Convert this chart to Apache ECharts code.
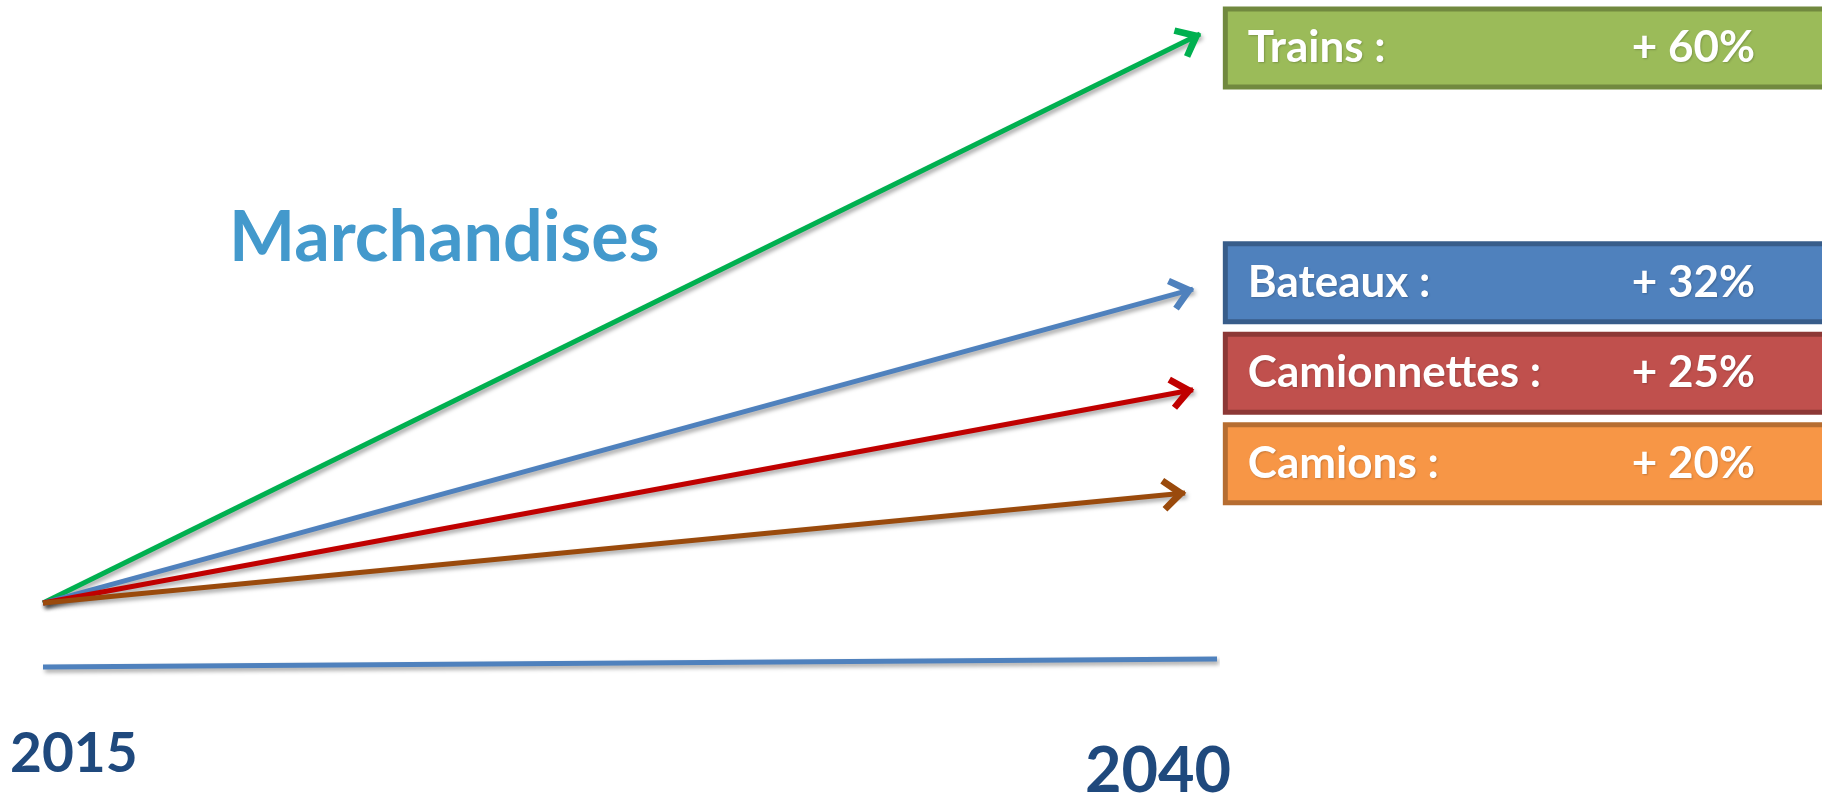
<!DOCTYPE html>
<html><head><meta charset="utf-8">
<script src="https://cdn.jsdelivr.net/npm/echarts@6/dist/echarts.min.js"></script>
<style>html,body{margin:0;padding:0;background:#fff}#c{width:1822px;height:796px}</style>
</head><body><div id="c"></div>
<script>
// ---- data ----
const categories = ['Trains', 'Bateaux', 'Camionnettes', 'Camions'];
const growthLabels = ['+ 60%', '+ 32%', '+ 25%', '+ 20%'];
const yearLabels = ['2015', '2040'];
const startYear = 2015;
const endYear = 2040;
const arrowStart = [2015, 10.1];
const arrowEndX = [2039.64, 2039.49, 2039.49, 2039.32];
const arrowEndY = [100, 59.7, 43.8, 27.5];
const baselineX = [2015, 2040];
const baselineY = [0, 1.26];
const boxX = 2040.22;
const boxY = [97.8, 60.7, 46.4, 32.1];
const titleText = 'Marchandises';

// ---- styles ----
const arrowColors = ['#00B050', '#4F81BD', '#C00000', '#9A4A0C'];
const boxFill = ['#9BBB59', '#4F81BD', '#C0504D', '#F79646'];
const boxBorder = ['#71893F', '#385D8A', '#8C3836', '#B66D31'];
const FONT = 'Lato, "Open Sans", sans-serif';

const arrowPath = 'path://M0,0 L0.01,0 L0,0.01 Z M40,40 L39.99,40 L40,39.99 Z ' +
  'M20,19 L33.5,35.5 L29.5,39 L20,27.8 L10.5,39 L6.5,35.5 Z';

const chart = echarts.init(document.getElementById('c'), null, {renderer: 'canvas'});

const shadow = {shadowColor: 'rgba(0,0,0,0.35)', shadowBlur: 4, shadowOffsetX: 2, shadowOffsetY: 3};
const txt = {fontSize: 44, fontWeight: 'bold', color: '#ffffff', fontFamily: FONT, lineHeight: 73,
  textShadowColor: 'rgba(0,0,0,0.2)', textShadowBlur: 2, textShadowOffsetX: 1, textShadowOffsetY: 1};

const option = {
  animation: false,
  backgroundColor: '#ffffff',
  grid: {left: 43, right: 605, top: 34, bottom: 129},
  xAxis: {type: 'value', min: startYear, max: endYear, show: false},
  yAxis: {type: 'value', min: 0, max: 100, show: false},
  series: [
    {
      type: 'line',
      name: 'base',
      data: baselineX.map((x, i) => [x, baselineY[i]]),
      showSymbol: false,
      clip: false,
      silent: true,
      lineStyle: Object.assign({color: '#4F81BD', width: 5}, shadow),
      z: 1
    },
    {
      type: 'lines',
      coordinateSystem: 'cartesian2d',
      clip: false,
      silent: true,
      symbol: ['none', arrowPath],
      symbolSize: 50,
      z: 3,
      data: categories.map((c, i) => ({
        name: c,
        coords: [arrowStart, [arrowEndX[i], arrowEndY[i]]],
        lineStyle: Object.assign({color: arrowColors[i], width: 5, opacity: 1}, shadow)
      }))
    },
    {
      type: 'scatter',
      clip: false,
      silent: true,
      symbolSize: 1,
      itemStyle: {color: 'rgba(0,0,0,0)', opacity: 1},
      z: 4,
      data: categories.map((c, i) => ({
        name: c,
        value: [boxX, boxY[i]],
        label: {backgroundColor: boxFill[i], borderColor: boxBorder[i]}
      })),
      label: {
        show: true,
        opacity: 1,
        position: 'right',
        distance: 0,
        width: 640,
        height: 73,
        padding: [0, 0, 0, 20],
        borderWidth: 5,
        formatter: p => '{n|' + categories[p.dataIndex] + ' :}{v|' + growthLabels[p.dataIndex] + '}',
        rich: {
          n: Object.assign({width: 384}, txt),
          v: Object.assign({}, txt)
        }
      }
    }
  ],
  graphic: [
    {type: 'text', x: 229, y: 238, style: {text: titleText, font: 'bold 70px ' + FONT, fill: '#4399CC', align: 'left', verticalAlign: 'middle'}},
    {type: 'text', x: 10, y: 754, style: {text: yearLabels[0], font: 'bold 55px ' + FONT, fill: '#1F497D', align: 'left', verticalAlign: 'middle'}},
    {type: 'text', x: 1085, y: 772, style: {text: yearLabels[1], font: 'bold 63px ' + FONT, fill: '#1F497D', align: 'left', verticalAlign: 'middle'}}
  ]
};
chart.setOption(option);
</script>
</body></html>
